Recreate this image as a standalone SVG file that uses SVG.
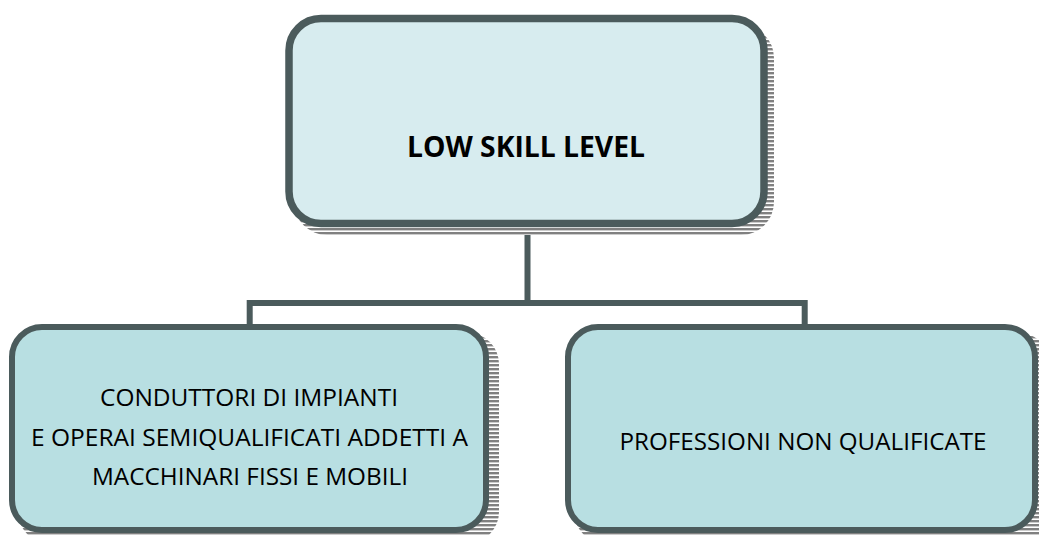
<svg xmlns="http://www.w3.org/2000/svg" width="1039" height="536" viewBox="0 0 1039 536">
  <defs>
    <pattern id="hatch" patternUnits="userSpaceOnUse" width="8" height="4">
      <rect x="0" y="0" width="8" height="4" fill="#ffffff"/>
      <rect x="0" y="0" width="8" height="2.4" fill="#808080"/>
    </pattern>
  </defs>
  <style>
    .box { stroke: #4b5b5c; }
    .top { fill: #d7ecef; stroke-width: 7.5; }
    .sub { fill: #b8dfe2; stroke-width: 6; }
    .shadow { fill: url(#hatch); }
    .conn { stroke: #4b5b5c; stroke-width: 6; fill: none; stroke-linejoin: miter; }
    .lbl { font-family: "Open Sans", "Liberation Sans", sans-serif; fill: #000000; text-anchor: middle; }
    .title { font-weight: bold; font-size: 29px; }
    .small { font-size: 24.5px; }
  </style>
  <rect width="1039" height="536" fill="#ffffff"/>

  <g id="connectors">
    <path class="conn" d="M527.5,226 V303 M249.7,327 V303 H804.7 V327"/>
  </g>

  <g id="node-top">
    <rect class="shadow" x="294" y="25" width="480" height="210" rx="33" ry="33"/>
    <rect class="box top" x="289" y="18.5" width="475" height="205" rx="32" ry="32"/>
    <text class="lbl title" x="526" y="156.5" textLength="238" lengthAdjust="spacingAndGlyphs">LOW SKILL LEVEL</text>
  </g>

  <g id="node-left">
    <rect class="shadow" x="18" y="333" width="481" height="210" rx="31" ry="31"/>
    <rect class="box sub" x="12" y="327" width="474" height="203" rx="30" ry="30"/>
    <text class="lbl small" x="249" y="406" textLength="298" lengthAdjust="spacingAndGlyphs">CONDUTTORI DI IMPIANTI</text>
    <text class="lbl small" x="249.5" y="445.5" textLength="437" lengthAdjust="spacingAndGlyphs">E OPERAI SEMIQUALIFICATI ADDETTI A</text>
    <text class="lbl small" x="250" y="485" textLength="316" lengthAdjust="spacingAndGlyphs">MACCHINARI FISSI E MOBILI</text>
  </g>

  <g id="node-right">
    <rect class="shadow" x="574" y="333" width="476" height="210" rx="31" ry="31"/>
    <rect class="box sub" x="568" y="327" width="467" height="203" rx="30" ry="30"/>
    <text class="lbl small" x="803" y="449.5" textLength="367" lengthAdjust="spacingAndGlyphs">PROFESSIONI NON QUALIFICATE</text>
  </g>
</svg>
